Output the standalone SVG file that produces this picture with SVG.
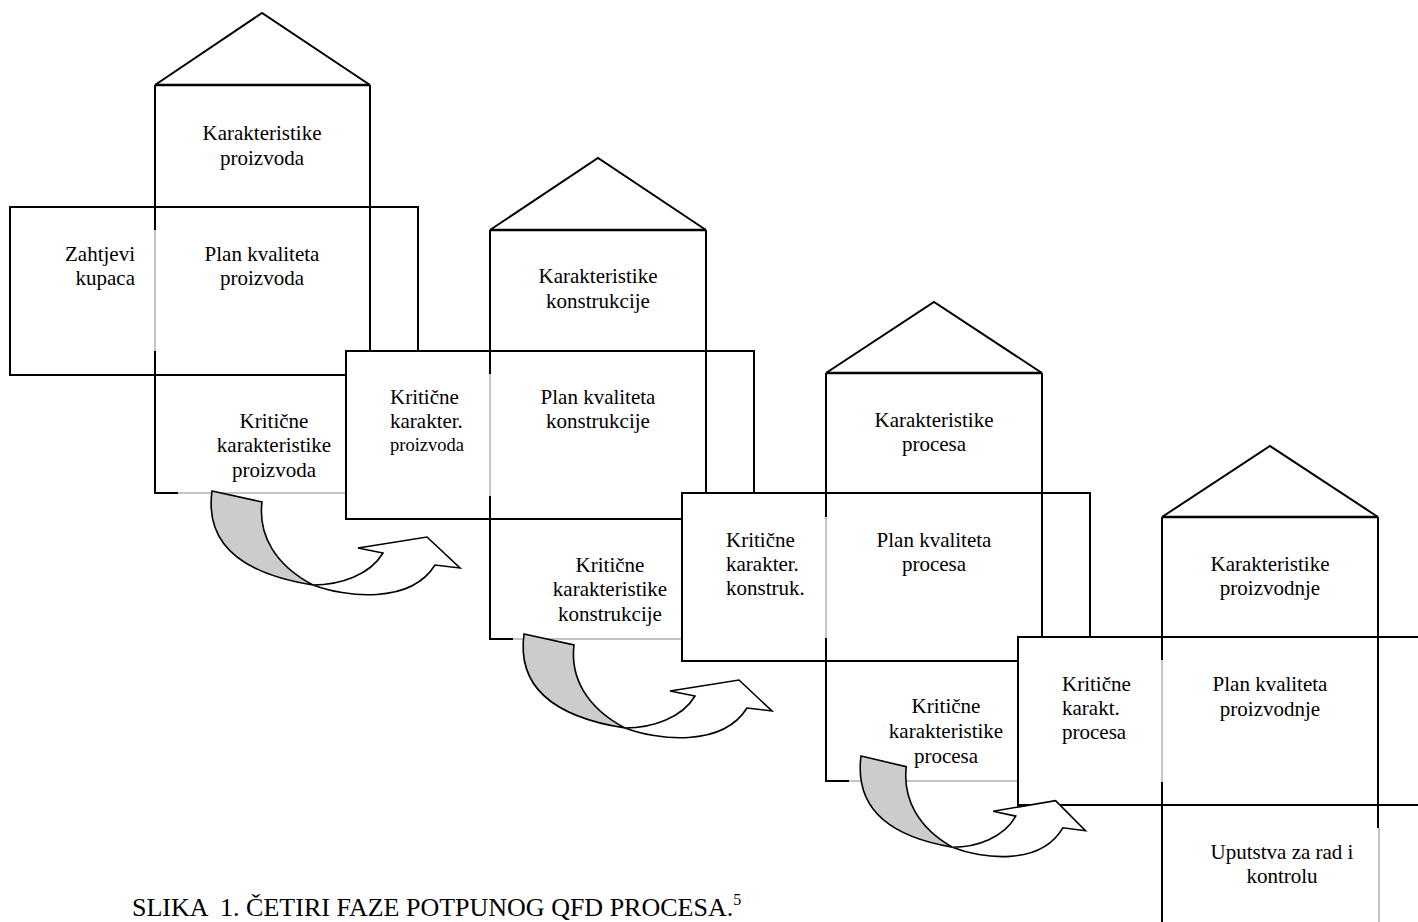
<svg xmlns="http://www.w3.org/2000/svg" width="1418" height="922" viewBox="0 0 1418 922">
<style>
.band{fill:#fff;stroke:#000;stroke-width:2}
.roof{fill:none;stroke:#000;stroke-width:2;stroke-linejoin:miter}
.k{stroke:#000;stroke-width:2;fill:none}
.base{stroke:#000;stroke-width:2.6;fill:none}
.t{stroke:#8a8a8a;stroke-width:1;fill:none}
text{font-family:"Liberation Serif","Times New Roman",serif;font-size:21px;fill:#000}
.c{text-anchor:middle}
.e{text-anchor:end}
.s{font-size:18.5px}
.cap{font-size:26px;white-space:pre}
.leaf{fill:#cccccc;stroke:#000;stroke-width:1.6;stroke-linejoin:miter}
.body{fill:#fff;stroke:#000;stroke-width:1.6;stroke-linejoin:miter}
</style>
<defs>
<g id="arrow">
<path class="body" vector-effect="non-scaling-stroke" d="M101,94 C133,106 198,114 223,74 L248,77 L215,46 L146,57 L171,62 C158,84 128,94 101,94 Z"/>
<path class="leaf" vector-effect="non-scaling-stroke" d="M0,0 L50,11 C46,44 63,74 101,94 C18,81 -6,44 0,0 Z"/>
</g>
</defs>
<rect width="1418" height="922" fill="#fff"/>

<g id="house1">
<rect class="band" x="10" y="207" width="408" height="168"/>
<polyline class="roof" points="155,85 262,13 370,85"/>
<line class="base" x1="155" y1="85" x2="370" y2="85"/>
<line class="k" x1="155" y1="85" x2="155" y2="230"/>
<line class="t" x1="155" y1="230" x2="155" y2="351"/>
<line class="k" x1="155" y1="351" x2="155" y2="494"/>
<line class="k" x1="370" y1="85" x2="370" y2="494"/>
<line class="k" x1="154" y1="493" x2="178" y2="493"/>
<line class="t" x1="178" y1="493" x2="370" y2="493"/>
<text class="c" x="262" y="140">Karakteristike</text>
<text class="c" x="262" y="164.5">proizvoda</text>
<text class="e" x="135" y="261">Zahtjevi</text>
<text class="e" x="135" y="285">kupaca</text>
<text class="c" x="262" y="261">Plan kvaliteta</text>
<text class="c" x="262" y="285">proizvoda</text>
<text class="c" x="274" y="428">Kritične</text>
<text class="c" x="274" y="452">karakteristike</text>
<text class="c" x="274" y="477">proizvoda</text>
</g>

<g id="house2">
<rect class="band" x="346" y="351" width="408" height="168"/>
<polyline class="roof" points="490,230 598,158 706,230"/>
<line class="base" x1="490" y1="230" x2="706" y2="230"/>
<line class="k" x1="490" y1="230" x2="490" y2="374"/>
<line class="t" x1="490" y1="374" x2="490" y2="496"/>
<line class="k" x1="490" y1="496" x2="490" y2="640"/>
<line class="k" x1="706" y1="230" x2="706" y2="640"/>
<line class="k" x1="489" y1="639" x2="513" y2="639"/>
<line class="t" x1="513" y1="639" x2="706" y2="639"/>
<text x="390" y="404">Kritične</text>
<text x="390" y="428">karakter.</text>
<text class="s" x="390" y="451">proizvoda</text>
<text class="c" x="598" y="283">Karakteristike</text>
<text class="c" x="598" y="308">konstrukcije</text>
<text class="c" x="598" y="404">Plan kvaliteta</text>
<text class="c" x="598" y="428">konstrukcije</text>
<text class="c" x="610" y="572">Kritične</text>
<text class="c" x="610" y="596">karakteristike</text>
<text class="c" x="610" y="621">konstrukcije</text>
</g>

<g id="house3">
<rect class="band" x="682" y="493" width="408" height="168"/>
<polyline class="roof" points="826,373 934,302 1042,373"/>
<line class="base" x1="826" y1="373" x2="1042" y2="373"/>
<line class="k" x1="826" y1="373" x2="826" y2="517"/>
<line class="t" x1="826" y1="517" x2="826" y2="638"/>
<line class="k" x1="826" y1="638" x2="826" y2="782"/>
<line class="k" x1="1042" y1="373" x2="1042" y2="782"/>
<line class="k" x1="825" y1="781" x2="849" y2="781"/>
<line class="t" x1="849" y1="781" x2="1042" y2="781"/>
<text x="726" y="547">Kritične</text>
<text x="726" y="571">karakter.</text>
<text x="726" y="595">konstruk.</text>
<text class="c" x="934" y="427">Karakteristike</text>
<text class="c" x="934" y="451">procesa</text>
<text class="c" x="934" y="547">Plan kvaliteta</text>
<text class="c" x="934" y="571">procesa</text>
<text class="c" x="946" y="713">Kritične</text>
<text class="c" x="946" y="738">karakteristike</text>
<text class="c" x="946" y="763">procesa</text>
</g>

<g id="house4">
<rect class="band" x="1018" y="637" width="420" height="168"/>
<polyline class="roof" points="1162,517 1270,446 1378,517"/>
<line class="base" x1="1162" y1="517" x2="1378" y2="517"/>
<line class="k" x1="1162" y1="517" x2="1162" y2="660"/>
<line class="t" x1="1162" y1="660" x2="1162" y2="782"/>
<line class="k" x1="1162" y1="782" x2="1162" y2="922"/>
<line class="k" x1="1378" y1="517" x2="1378" y2="828"/>
<line class="t" x1="1379" y1="828" x2="1379" y2="922"/>
<text x="1062" y="691">Kritične</text>
<text x="1062" y="715">karakt.</text>
<text x="1062" y="739">procesa</text>
<text class="c" x="1270" y="571">Karakteristike</text>
<text class="c" x="1270" y="595">proizvodnje</text>
<text class="c" x="1270" y="691">Plan kvaliteta</text>
<text class="c" x="1270" y="716">proizvodnje</text>
<text class="c" x="1282" y="859">Uputstva za rad i</text>
<text class="c" x="1282" y="883">kontrolu</text>
</g>

<g id="connectors">
<use href="#arrow" transform="translate(212,491)"/>
<use href="#arrow" transform="translate(524,634)"/>
<use href="#arrow" transform="translate(861,756) scale(0.905,0.97)"/>
</g>

<g id="caption">
<text class="cap" x="132" y="916">SLIKA  1. ČETIRI FAZE POTPUNOG QFD PROCESA.<tspan font-size="16" dy="-11">5</tspan></text>
</g>
</svg>
